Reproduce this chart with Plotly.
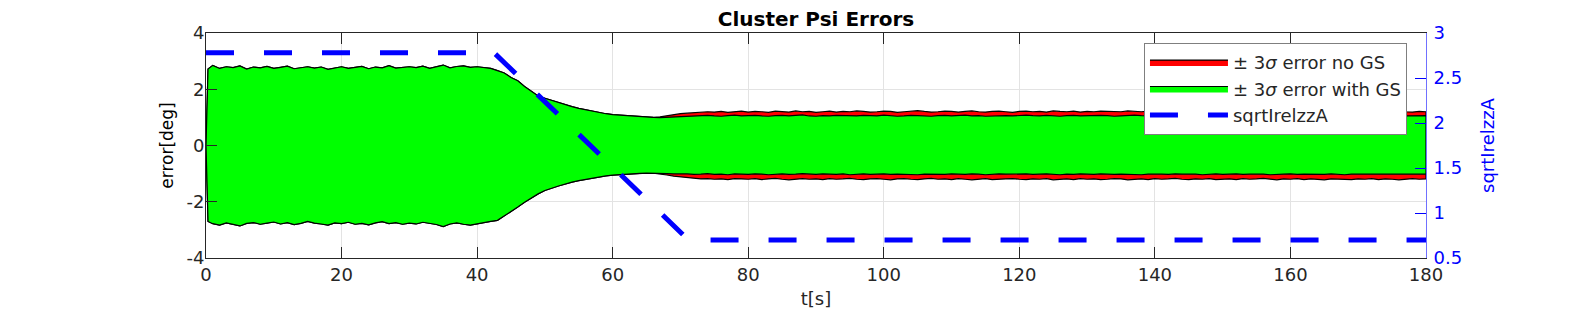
import plotly.graph_objects as go

# ---------------- data ----------------
t_start = [0, 0.3]
t_grid = list(range(1, 181))
time = t_start + t_grid  # seconds

# +3 sigma with GS (green), t = 0, 0.3, 1..180
green_upper = [0.0, 2.72,
    2.85, 2.74, 2.80, 2.77, 2.83, 2.72, 2.79, 2.76, 2.81, 2.74,
    2.78, 2.82, 2.73, 2.77, 2.80, 2.75, 2.79, 2.71, 2.76, 2.80,
    2.74, 2.78, 2.81, 2.73, 2.79, 2.76, 2.84, 2.75, 2.78, 2.80,
    2.77, 2.82, 2.74, 2.79, 2.86, 2.76, 2.81, 2.83, 2.78, 2.80,
    2.76, 2.74, 2.66, 2.58, 2.42, 2.30, 2.10, 1.92, 1.76, 1.68,
    1.60, 1.52, 1.45, 1.38, 1.32, 1.27, 1.21, 1.17, 1.13, 1.10,
    1.08, 1.06, 1.05, 1.03, 1.01, 1.00, 0.99, 1.00, 1.02, 1.03,
    1.04, 1.06, 1.05, 1.07, 1.05, 1.04, 1.06, 1.08, 1.05, 1.06,
    1.07, 1.05, 1.04, 1.06, 1.07, 1.05, 1.06, 1.09, 1.05, 1.04,
    1.06, 1.05, 1.07, 1.06, 1.04, 1.05, 1.07, 1.06, 1.05, 1.08,
    1.06, 1.04, 1.05, 1.07, 1.06, 1.05, 1.04, 1.06, 1.07, 1.05,
    1.06, 1.08, 1.05, 1.06, 1.04, 1.05, 1.07, 1.06, 1.05, 1.06,
    1.08, 1.06, 1.05, 1.07, 1.05, 1.04, 1.06, 1.07, 1.05, 1.06,
    1.05, 1.07, 1.06, 1.04, 1.05, 1.07, 1.08, 1.06, 1.05, 1.06,
    1.04, 1.06, 1.07, 1.05, 1.06, 1.05, 1.07, 1.06, 1.04, 1.06,
    1.07, 1.05, 1.06, 1.08, 1.06, 1.05, 1.04, 1.06, 1.07, 1.05,
    1.06, 1.05, 1.07, 1.06, 1.05, 1.04, 1.06, 1.08, 1.06, 1.05,
    1.06, 1.07, 1.05, 1.04, 1.06, 1.07, 1.05, 1.06, 1.07, 1.06]

# -3 sigma with GS (green)
green_lower = [0.0, -2.70,
    -2.78, -2.83, -2.75, -2.80, -2.86, -2.77, -2.74, -2.80, -2.76, -2.72,
    -2.79, -2.74, -2.81, -2.77, -2.70, -2.76, -2.79, -2.83, -2.75, -2.78,
    -2.73, -2.80, -2.77, -2.82, -2.75, -2.71, -2.78, -2.74, -2.80, -2.76,
    -2.79, -2.73, -2.77, -2.81, -2.88, -2.79, -2.75, -2.80, -2.83, -2.78,
    -2.74, -2.70, -2.66, -2.52, -2.35, -2.19, -2.02, -1.86, -1.72, -1.60,
    -1.52, -1.44, -1.36, -1.30, -1.25, -1.20, -1.15, -1.12, -1.08, -1.05,
    -1.03, -1.01, -1.00, -0.99, -0.98, -0.98, -0.99, -1.00, -1.01, -1.02,
    -1.01, -1.03, -1.02, -1.00, -1.03, -1.02, -1.04, -1.01, -1.02, -1.03,
    -1.01, -1.02, -1.04, -1.02, -1.01, -1.03, -1.02, -1.00, -1.02, -1.03,
    -1.01, -1.02, -1.03, -1.01, -1.04, -1.02, -1.01, -1.03, -1.02, -1.01,
    -1.03, -1.02, -1.01, -1.03, -1.04, -1.02, -1.01, -1.02, -1.03, -1.01,
    -1.02, -1.03, -1.01, -1.02, -1.04, -1.03, -1.01, -1.02, -1.03, -1.02,
    -1.01, -1.03, -1.02, -1.01, -1.02, -1.04, -1.02, -1.03, -1.01, -1.02,
    -1.03, -1.01, -1.02, -1.03, -1.02, -1.01, -1.03, -1.04, -1.02, -1.01,
    -1.02, -1.03, -1.01, -1.02, -1.03, -1.02, -1.04, -1.02, -1.01, -1.03,
    -1.02, -1.01, -1.03, -1.02, -1.01, -1.02, -1.04, -1.03, -1.02, -1.01,
    -1.03, -1.02, -1.01, -1.02, -1.03, -1.01, -1.02, -1.04, -1.02, -1.01,
    -1.02, -1.03, -1.01, -1.02, -1.03, -1.02, -1.01, -1.03, -1.02, -1.02]

# +/-3 sigma no GS (red): identical to green up to t = 66 s, then t = 67..180
red_split_t = 66
red_upper_tail = [1.02, 1.06, 1.10, 1.13,
    1.15, 1.17, 1.18, 1.20, 1.19, 1.21, 1.18, 1.20, 1.22, 1.19,
    1.21, 1.20, 1.18, 1.22, 1.21, 1.19, 1.23, 1.20, 1.21, 1.18,
    1.20, 1.22, 1.19, 1.21, 1.20, 1.23, 1.21, 1.19, 1.20, 1.22,
    1.21, 1.18, 1.20, 1.22, 1.24, 1.21, 1.19, 1.20, 1.22, 1.21,
    1.19, 1.21, 1.23, 1.20, 1.19, 1.21, 1.22, 1.20, 1.18, 1.21,
    1.22, 1.20, 1.21, 1.19, 1.23, 1.21, 1.20, 1.22, 1.19, 1.21,
    1.20, 1.22, 1.21, 1.19, 1.20, 1.23, 1.21, 1.20, 1.22, 1.19,
    1.21, 1.20, 1.18, 1.21, 1.22, 1.20, 1.21, 1.19, 1.22, 1.21,
    1.20, 1.22, 1.19, 1.21, 1.20, 1.18, 1.21, 1.23, 1.20, 1.21,
    1.19, 1.22, 1.20, 1.21, 1.23, 1.20, 1.19, 1.21, 1.22, 1.20,
    1.21, 1.19, 1.22, 1.20, 1.21, 1.23, 1.20, 1.19, 1.21, 1.20]
red_lower_tail = [-1.01, -1.05, -1.09, -1.13,
    -1.15, -1.17, -1.19, -1.18, -1.20, -1.19, -1.21, -1.18, -1.19, -1.20,
    -1.18, -1.21, -1.19, -1.17, -1.20, -1.22, -1.19, -1.18, -1.20, -1.19,
    -1.21, -1.18, -1.20, -1.19, -1.17, -1.20, -1.21, -1.19, -1.18, -1.20,
    -1.22, -1.19, -1.18, -1.20, -1.21, -1.19, -1.17, -1.20, -1.19, -1.21,
    -1.18, -1.20, -1.22, -1.19, -1.18, -1.21, -1.20, -1.19, -1.18, -1.20,
    -1.21, -1.19, -1.20, -1.18, -1.22, -1.20, -1.19, -1.21, -1.18, -1.20,
    -1.19, -1.21, -1.20, -1.18, -1.19, -1.22, -1.20, -1.19, -1.21, -1.18,
    -1.20, -1.19, -1.17, -1.20, -1.21, -1.19, -1.20, -1.18, -1.21, -1.20,
    -1.19, -1.21, -1.18, -1.20, -1.19, -1.17, -1.20, -1.22, -1.19, -1.20,
    -1.18, -1.21, -1.19, -1.20, -1.22, -1.19, -1.18, -1.20, -1.21, -1.19,
    -1.20, -1.18, -1.21, -1.19, -1.20, -1.22, -1.19, -1.18, -1.20, -1.19]

# sqrtIrelzzA (right axis)
sq_t = [0, 42.5, 71.2, 180]
sq_v = [2.78, 2.78, 0.70, 0.70]

x_ticks = [0, 20, 40, 60, 80, 100, 120, 140, 160, 180]
y_ticks = [-4, -2, 0, 2, 4]
y_ticklabels = ["-4", "-2", "0", "2", "4"]
y2_ticks = [0.5, 1, 1.5, 2, 2.5, 3]

# ---------------- build ----------------
split_idx = time.index(red_split_t) + 1
red_upper = green_upper[:split_idx] + red_upper_tail
red_lower = green_lower[:split_idx] + red_lower_tail

def band(up, lo):
    xs = list(time) + list(reversed(time))
    ys = list(up) + list(reversed(lo))
    return xs, ys

FONT = "DejaVu Sans, Arial, sans-serif"
AX = "#262626"

fig = go.Figure()
rx, ry = band(red_upper, red_lower)
fig.add_trace(go.Scatter(x=rx, y=ry, fill="toself", fillcolor="#ff0000",
                         line=dict(color="black", width=1.2), mode="lines",
                         name="\u00b1 3<i>\u03c3</i> error no GS"))
gx, gy = band(green_upper, green_lower)
fig.add_trace(go.Scatter(x=gx, y=gy, fill="toself", fillcolor="#00ff00",
                         line=dict(color="black", width=1.2), mode="lines",
                         name="\u00b1 3<i>\u03c3</i> error with GS"))
fig.add_trace(go.Scatter(x=sq_t, y=sq_v, yaxis="y2", mode="lines",
                         line=dict(color="#0000ff", width=5, dash="28px,30px"),
                         name="sqrtIrelzzA"))

# the page body has an 8px default margin, so the figure is 8px smaller
fig.update_layout(
    width=1570, height=308,
    margin=dict(l=198, r=152, t=25, b=58),
    paper_bgcolor="white", plot_bgcolor="white",
    font=dict(family=FONT, size=18, color=AX),
    title=dict(text="<b>Cluster Psi Errors</b>", x=0.5, xref="paper",
               y=1 - 10.5 / 308, yref="container", yanchor="middle",
               font=dict(size=20, color="black")),
    xaxis=dict(range=[0, 180], tickvals=x_ticks, ticks="inside", ticklen=11,
               tickcolor=AX, showline=True, linecolor=AX, linewidth=1,
               mirror="ticks", showgrid=True, gridcolor="#e3e3e3", zeroline=False,
               automargin=False,
               title=dict(text="t[s]", standoff=8, font=dict(size=18, color=AX)),
               tickfont=dict(size=18, color=AX)),
    yaxis=dict(range=[-4, 4], tickvals=y_ticks, ticktext=y_ticklabels,
               ticks="inside", ticklen=11,
               tickcolor=AX, showline=True, linecolor=AX, linewidth=1,
               showgrid=True, gridcolor="#e3e3e3", zeroline=False,
               automargin=False, ticklabelstandoff=-3,
               title=dict(text="error[deg]", standoff=8, font=dict(size=17, color="black")),
               tickfont=dict(size=18, color=AX)),
    yaxis2=dict(range=[0.5, 3], tickvals=y2_ticks, overlaying="y", side="right",
                ticks="inside", ticklen=11, tickcolor="#0000ff",
                showline=True, linecolor="#7070ff", linewidth=1,
                showgrid=False, zeroline=False, automargin=False,
                ticklabelstandoff=3,
                title=dict(text="sqrtIrelzzA", standoff=20, font=dict(size=18, color="#0000ff")),
                tickfont=dict(size=18, color="#0000ff")),
    showlegend=True,
    legend=dict(x=0.9844, xanchor="right", y=0.956, yanchor="top",
                bgcolor="white", bordercolor="#7f7f7f", borderwidth=1,
                font=dict(size=18, color=AX), itemwidth=78,
                tracegroupgap=0),
)

fig.write_html("out.html")
